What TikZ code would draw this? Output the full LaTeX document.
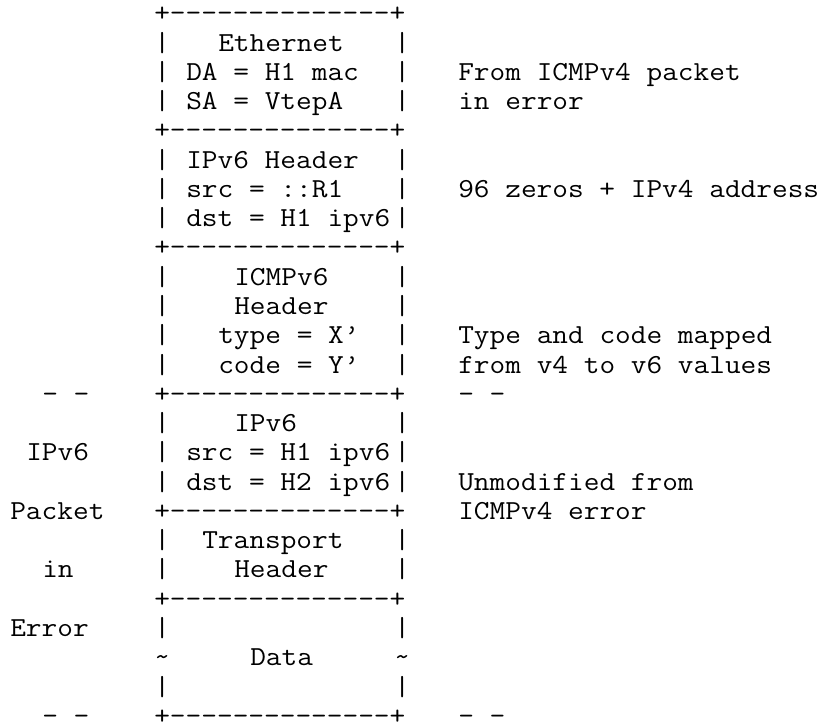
\documentclass[tikz,border=0pt]{standalone}
\usepackage{graphicx}
\newcommand\cw{16.0}
\newcommand\xo{10.3}
\newcommand\yo{21.8}
\newcommand\lh{29.27}
\tikzset{
  asctxt/.style={anchor=base west, inner sep=0pt, outer sep=0pt, text depth=0pt,
    font=\ttfamily\fontsize{27.5}{29.27}\selectfont, text=black}
}
% \ascput{name}{column}{line}{text}
\newcommand\ascput[4]{\node[asctxt] (#1) at ({(\xo+#2*\cw)*1pt}, {-(\yo+(#3-1)*\lh)*1pt}) {\scalebox{1.108}[1]{#4}};}
\newcommand\bordr[2]{\ascput{#1}{9}{#2}{+--------------+}}
\newcommand\bars[2]{\ascput{#1l}{9}{#2}{|}\ascput{#1r}{24}{#2}{|}}
\begin{document}
\begin{tikzpicture}
\fill[white] (0,0) rectangle (827pt,-725pt);
\useasboundingbox (0,0) rectangle (827pt,-725pt);
% Ethernet
\bordr{b1}{1}
\bars{v2}{2}\ascput{eth}{13}{2}{Ethernet}
\bars{v3}{3}\ascput{da}{11}{3}{DA = H1 mac}\ascput{n1a}{28}{3}{From ICMPv4 packet}
\bars{v4}{4}\ascput{sa}{11}{4}{SA = VtepA}\ascput{n1b}{28}{4}{in error}
% IPv6 header
\bordr{b5}{5}
\bars{v6}{6}\ascput{ip6h}{11}{6}{IPv6 Header}
\bars{v7}{7}\ascput{src1}{11}{7}{src = ::R1}\ascput{n2}{28}{7}{96 zeros + IPv4 address}
\bars{v8}{8}\ascput{dst1}{11}{8}{dst = H1 ipv6}
% ICMPv6
\bordr{b9}{9}
\bars{v10}{10}\ascput{icmp}{14}{10}{ICMPv6}
\bars{v11}{11}\ascput{icmph}{14}{11}{Header}
\bars{v12}{12}\ascput{typ}{13}{12}{type = X’}\ascput{n3a}{28}{12}{Type and code mapped}
\bars{v13}{13}\ascput{cod}{13}{13}{code = Y’}\ascput{n3b}{28}{13}{from v4 to v6 values}
% packet in error
\ascput{dl1}{2}{14}{- -}\bordr{b14}{14}\ascput{dr1}{28}{14}{- -}
\bars{v15}{15}\ascput{ip6}{14}{15}{IPv6}
\ascput{lab1}{1}{16}{IPv6}\bars{v16}{16}\ascput{src2}{11}{16}{src = H1 ipv6}
\bars{v17}{17}\ascput{dst2}{11}{17}{dst = H2 ipv6}\ascput{n4a}{28}{17}{Unmodified from}
\ascput{lab2}{0}{18}{Packet}\bordr{b18}{18}\ascput{n4b}{28}{18}{ICMPv4 error}
\bars{v19}{19}\ascput{tr}{12}{19}{Transport}
\ascput{lab3}{2}{20}{in}\bars{v20}{20}\ascput{trh}{14}{20}{Header}
\bordr{b21}{21}
\ascput{lab4}{0}{22}{Error}\bars{v22}{22}
\ascput{t23l}{9}{23}{\char`\~}\ascput{data}{15}{23}{Data}\ascput{t23r}{24}{23}{\char`\~}
\bars{v24}{24}
\ascput{dl2}{2}{25}{- -}\bordr{b25}{25}\ascput{dr2}{28}{25}{- -}
\end{tikzpicture}
\end{document}
